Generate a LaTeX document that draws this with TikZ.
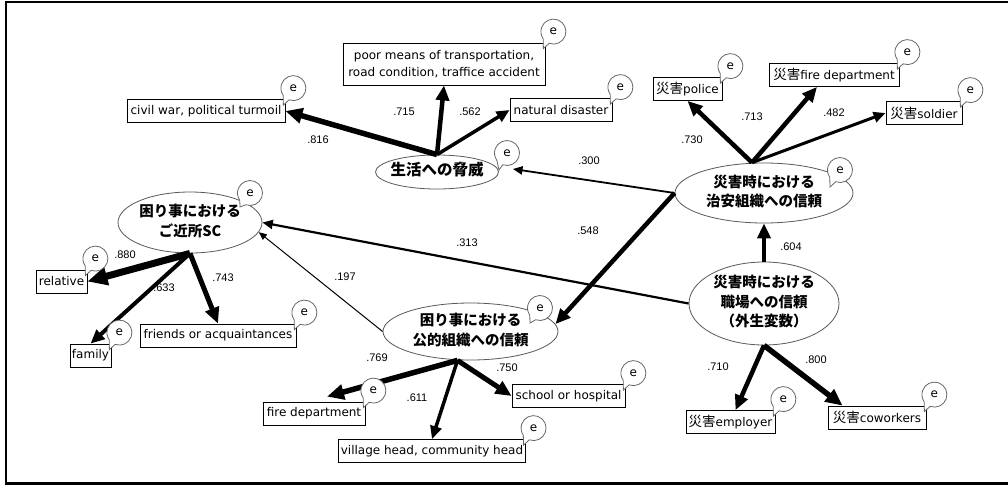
\documentclass[tikz,border=0pt]{standalone}
\usepackage{fontspec}
\setmainfont{Noto Sans CJK JP}
\newfontfamily\jp{Noto Sans CJK JP}
\newfontfamily\boxfont{DejaVu Sans}
\newfontfamily\numfont{Liberation Sans}
\usetikzlibrary{shapes.geometric,arrows.meta,calc}

% centred multi-line text that does not widen its ellipse
\newcommand\lines[1]{\makebox[0pt]{\begin{tabular}{@{}c@{}}#1\end{tabular}}}
% the prefix "disaster" in box labels
\newcommand\sai{{\jp\fontsize{13.5}{14}\selectfont 災害}}

% error bubble: name, centre, tail tip
\newcommand\ebub[3]{%
  \filldraw[bubble] (#2) ++(250:12.5pt) arc[start angle=250,end angle=575,radius=12.5pt] -- (#3) -- cycle;
  \node[etxt] (#1) at (#2) {e};}
% error bubble at the upper right corner of an observed box
\newcommand\boxbub[2]{\ebub{#1}{$(#2.north east)+(8,11)$}{$(#2.north east)+(-2,-6)$}}

\tikzset{
  ell/.style={ellipse, draw=black!65, line width=0.8pt, fill=white, inner sep=0pt,
    font=\fontsize{14.5}{19.5}\selectfont\jp\bfseries},
  obs/.style={draw=black, line width=0.8pt, fill=white, inner xsep=2pt, inner ysep=0pt,
    minimum height=23pt, font=\fontsize{12}{16.5}\selectfont\boxfont},
  bubble/.style={fill=white, draw=black!60, line width=0.8pt},
  etxt/.style={inner sep=0pt, font=\fontsize{12}{12}\selectfont\boxfont},
  lab/.style={inner sep=0pt, font=\fontsize{11}{12}\selectfont\numfont},
  ar/.style={line width=#1pt, -{Triangle[length=6pt 2, width=5pt 1.8]}}
}

\begin{document}
\begin{tikzpicture}[x=1pt,y=1pt]
\useasboundingbox (0,0) rectangle (1008,-485);
% frame
\draw[line width=2.6pt] (1015,-2) -- (6,-2) -- (6,-483.5) -- (1015,-483.5);

% observed variables
\node[obs, minimum width=158pt] (civil) at (206,-111) {civil war, political turmoil};
\node[obs, minimum width=202pt, minimum height=42pt, align=center] (poor) at (444,-64)
  {poor means of transportation,\\road condition, traffice accident};
\node[obs, minimum width=102pt] (nat) at (561,-110) {natural disaster};
\node[obs, minimum width=69pt] (police) at (687.5,-89) {\sai police};
\node[obs, minimum width=130pt] (fire) at (834,-75) {\sai fire department};
\node[obs, minimum width=76pt] (soldier) at (924,-113) {\sai soldier};
\node[obs, minimum width=51pt] (rel) at (61.5,-281.5) {relative};
\node[obs, minimum width=41pt] (fam) at (90.5,-355.5) {family};
\node[obs, minimum width=156pt] (friend) at (218,-335.5) {friends or acquaintances};
\node[obs, minimum width=102pt] (fdep) at (314,-413.5) {fire department};
\node[obs, minimum width=186pt] (head) at (432,-451) {village head, community head};
\node[obs, minimum width=113pt] (school) at (568.5,-396) {school or hospital};
\node[obs, minimum width=89pt] (emp) at (730.5,-422) {\sai employer};
\node[obs, minimum width=98pt] (cowk) at (877,-417.5) {\sai coworkers};

% latent variables
\node[ell, minimum width=123pt, minimum height=34pt, font=\fontsize{15.5}{19.5}\selectfont\jp\bfseries]
  (thr) at (437,-172) {\lines{生活への脅威}};
\node[ell, minimum width=178pt, minimum height=60pt] (pol) at (764,-193)
  {\lines{災害時における\\治安組織への信頼}};
\node[ell, minimum width=150pt, minimum height=83pt] (work) at (764,-303.5)
  {\lines{災害時における\\職場への信頼\\（外生変数）}};
\node[ell, minimum width=144pt, minimum height=61pt] (nb) at (190,-222.5)
  {\lines{困り事における\\ご近所SC}};
\node[ell, minimum width=175pt, minimum height=57pt] (pub) at (470.5,-331.5)
  {\lines{困り事における\\公的組織への信頼}};

% paths
\draw[ar=5.5] (thr.north) -- (civil.east);
\draw[ar=4.5] (thr.north) -- (poor.south);
\draw[ar=3.5] (thr.north) -- (nat.west);
\draw[ar=4.5] ([xshift=-12pt]pol.north) -- (police.south);
\draw[ar=4.5] ([xshift=-12pt]pol.north) -- ([xshift=-17pt]fire.south);
\draw[ar=3] ([xshift=-12pt]pol.north) -- (soldier.west);
\draw[ar=1.8] (pol.west) -- ([shift={(14pt,3pt)}]thr.east);
\draw[ar=4.5] (pol.west) -- (pub.5);
\draw[ar=4.5] (work.north) -- (pol.south);
\draw[ar=2.2] (work.west) -- (nb.east);
\draw[ar=1] (pub.west) -- (nb.-8);
\draw[ar=4.5] (work.south) -- ([xshift=5pt]emp.north);
\draw[ar=5.5] (work.south) -- ([xshift=15pt]cowk.north west);
\draw[ar=7] (nb.south) -- (rel.east);
\draw[ar=4] (nb.south) -- (fam.north);
\draw[ar=5] (nb.south) -- (friend.north);
\draw[ar=5.5] ([xshift=-13pt]pub.south) -- ([shift={(13pt,5pt)}]fdep.north);
\draw[ar=3.5] ([xshift=-13pt]pub.south) -- (head.north);
\draw[ar=5] ([xshift=-13pt]pub.south) -- (school.west);

% coefficients
\node[lab] (c816) at (318,-140) {.816};
\node[lab] (c715) at (404,-112) {.715};
\node[lab] (c562) at (470,-112) {.562};
\node[lab] (c730) at (692,-140) {.730};
\node[lab] (c713) at (752,-117) {.713};
\node[lab] (c482) at (834,-113) {.482};
\node[lab] (c300) at (589,-161) {.300};
\node[lab] (c548) at (588,-231) {.548};
\node[lab] (c604) at (791,-247) {.604};
\node[lab] (c313) at (467,-243) {.313};
\node[lab] (c197) at (345,-277) {.197};
\node[lab] (c710) at (718,-367) {.710};
\node[lab] (c800) at (816,-360) {.800};
\node[lab] (c880) at (125,-255) {.880};
\node[lab] (c633) at (164,-288) {.633};
\node[lab] (c743) at (223,-278) {.743};
\node[lab] (c769) at (377,-358) {.769};
\node[lab] (c611) at (417,-398) {.611};
\node[lab] (c750) at (507,-368) {.750};

% error terms
\boxbub{ecivil}{civil}
\boxbub{epoor}{poor}
\boxbub{enat}{nat}
\boxbub{epolice}{police}
\boxbub{efire}{fire}
\boxbub{esoldier}{soldier}
\boxbub{erel}{rel}
\boxbub{efam}{fam}
\boxbub{efriend}{friend}
\boxbub{efdep}{fdep}
\boxbub{ehead}{head}
\boxbub{eschool}{school}
\boxbub{eemp}{emp}
\boxbub{ecowk}{cowk}
\ebub{ethr}{507,-153}{499,-170}
\ebub{epol}{840,-170}{830,-187}
\ebub{enb}{250,-193}{240,-207}
\ebub{epub}{540,-308}{530,-323}
\end{tikzpicture}
\end{document}
